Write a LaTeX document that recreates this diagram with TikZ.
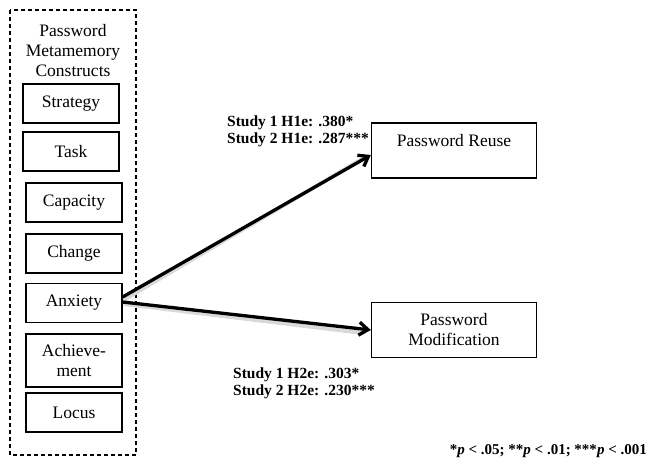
\documentclass[tikz,border=0pt]{standalone}
\usepackage{fontspec}
\setmainfont{Liberation Serif}
\usetikzlibrary{arrows.meta,positioning}

\begin{document}
\begin{tikzpicture}[x=1pt,y=-1pt,>={Straight Barb[length=9pt,width=13pt]}]
    \tikzstyle{construct}=[draw,line width=1.3pt,minimum width=96pt,minimum height=39pt,inner sep=1pt,align=center,font=\fontsize{17.5}{20}\selectfont]
    \tikzstyle{outcome}=[draw,line width=1.3pt,minimum width=165pt,minimum height=55pt,inner sep=1pt,align=center,font=\fontsize{17.5}{20}\selectfont]
    \tikzstyle{coef}=[anchor=west,align=left,inner sep=0pt,font=\bfseries\fontsize{15.5}{17}\selectfont]
    \tikzstyle{effect}=[->,line width=3.3pt]
    \tikzstyle{effectshadow}=[line width=4pt,black!15]
    \useasboundingbox (0,0) rectangle (648,470);

    % Metamemory constructs
    \draw[line width=1.2pt,dash pattern=on 4pt off 3pt] (10,10) rectangle (136,455);
    \node (title)[align=center,font=\fontsize{17.5}{20}\selectfont] at (73,51) {Password\\Metamemory\\Constructs};
    \node (strategy)[construct] at (71,103.5) {Strategy};
    \node (task)[construct] at (71,151.5) {Task};
    \node (capacity)[construct] at (74,202.5) {Capacity};
    \node (change)[construct] at (74,253.5) {Change};
    \node (anxiety)[construct] at (74,303) {Anxiety};
    \node (achievement)[construct,minimum height=53pt] at (74,360.5) {Achieve-\\ment};
    \node (locus)[construct] at (74,412.5) {Locus};

    % Outcomes
    \node (reuse)[outcome] at (454,150.5) {Password Reuse\\~};
    \node (modification)[outcome] at (454,330) {Password\\Modification};

    % Paths from anxiety (soft shadow first)
    \draw[effectshadow] ([xshift=1pt,yshift=3pt]anxiety.east) -- ([xshift=-8pt,yshift=-8pt]reuse.west);
    \draw[effectshadow] ([xshift=1pt,yshift=-1pt]anxiety.east) -- ([xshift=-8pt,yshift=-3pt]modification.west);
    \draw[effect] ([yshift=6pt]anxiety.east) -- ([yshift=-4.5pt]reuse.west);
    \draw[effect] ([yshift=1pt]anxiety.east) -- (modification.west);

    % Coefficients
    \node (h1e)[coef] at (227,131.5) {Study 1 H1e: .380*\\Study 2 H1e: .287***};
    \node (h2e)[coef] at (233,383.5) {Study 1 H2e: .303*\\Study 2 H2e: .230***};

    % Significance note
    \node (note)[anchor=east,inner sep=0pt,font=\bfseries\fontsize{15}{17}\selectfont] at (647,451) {*\textit{p} < .05; **\textit{p} < .01; ***\textit{p} < .001};
\end{tikzpicture}
\end{document}
